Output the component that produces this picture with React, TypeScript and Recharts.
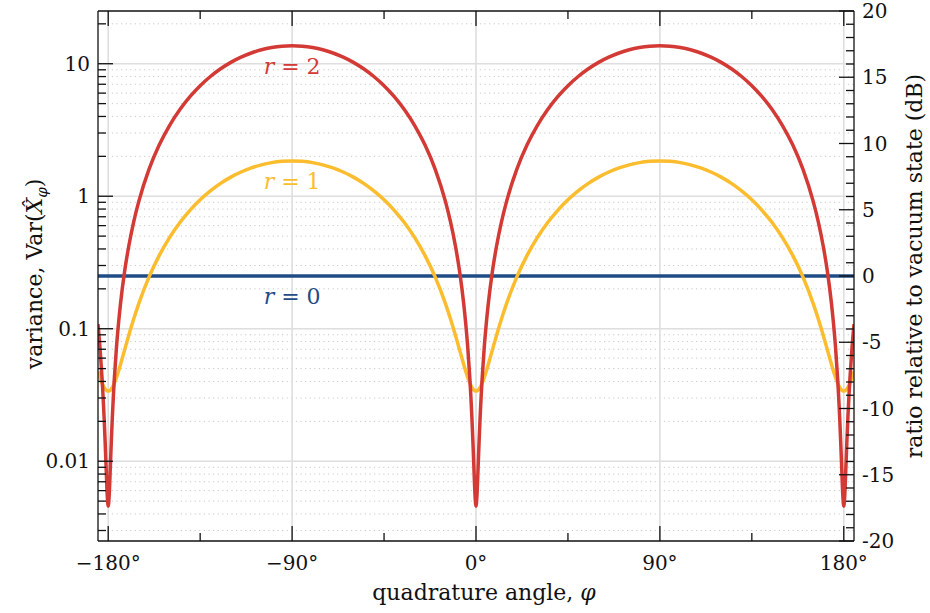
import React from "react";
import {
  Label,
  Line,
  LineChart,
  ReferenceDot,
  ReferenceLine,
  XAxis,
  YAxis,
} from "recharts";

// quadrature angle (deg), denser sampling near the squeezing dips
const phi = [
  -185, -184, -183, -182.5, -182, -181.5, -181, -180.5, -180,
  -179.5, -179, -178.5, -178, -177.5, -177, -176, -175, -174, -172, -170, -167.5, -165,
  -160, -155, -150, -145, -140, -135, -130, -125, -120, -115, -110, -105, -100, -95, -90,
  -85, -80, -75, -70, -65, -60, -55, -50, -45, -40, -35, -30, -25, -20, -15, -12.5,
  -10, -8, -6, -5, -4, -3, -2.5, -2, -1.5, -1, -0.5, 0,
  0.5, 1, 1.5, 2, 2.5, 3, 4, 5, 6, 8, 10, 12.5, 15, 20, 25, 30, 35, 40, 45, 50, 55,
  60, 65, 70, 75, 80, 85, 90,
  95, 100, 105, 110, 115, 120, 125, 130, 135, 140, 145, 150, 155, 160, 165, 167.5,
  170, 172, 174, 175, 176, 177, 177.5, 178, 178.5, 179, 179.5, 180,
  180.5, 181, 181.5, 182, 182.5, 183, 184, 185,
];

// Var(X_phi) for r = 1
const varR1 = [
  0.04761, 0.04266, 0.0388, 0.03728, 0.03604, 0.03508, 0.03439, 0.03397, 0.03383,
  0.03397, 0.03439, 0.03508, 0.03604, 0.03728, 0.0388, 0.04266, 0.04761, 0.05365, 0.06896, 0.08852, 0.1188, 0.1553,
  0.246, 0.3577, 0.4872, 0.6304, 0.7831, 0.9406, 1.098, 1.251, 1.394, 1.523, 1.635, 1.726, 1.793, 1.833, 1.847,
  1.833, 1.793, 1.726, 1.635, 1.523, 1.394, 1.251, 1.098, 0.9406, 0.7831, 0.6304, 0.4872, 0.3577, 0.246, 0.1553, 0.1188,
  0.08852, 0.06896, 0.05365, 0.04761, 0.04266, 0.0388, 0.03728, 0.03604, 0.03508, 0.03439, 0.03397, 0.03383,
  0.03397, 0.03439, 0.03508, 0.03604, 0.03728, 0.0388, 0.04266, 0.04761, 0.05365, 0.06896, 0.08852, 0.1188, 0.1553, 0.246, 0.3577, 0.4872, 0.6304, 0.7831, 0.9406, 1.098, 1.251,
  1.394, 1.523, 1.635, 1.726, 1.793, 1.833, 1.847,
  1.833, 1.793, 1.726, 1.635, 1.523, 1.394, 1.251, 1.098, 0.9406, 0.7831, 0.6304, 0.4872, 0.3577, 0.246, 0.1553, 0.1188,
  0.08852, 0.06896, 0.05365, 0.04761, 0.04266, 0.0388, 0.03728, 0.03604, 0.03508, 0.03439, 0.03397, 0.03383,
  0.03397, 0.03439, 0.03508, 0.03604, 0.03728, 0.0388, 0.04266, 0.04761,
];

// Var(X_phi) for r = 2
const varR2 = [
  0.1082, 0.07098, 0.04195, 0.03054, 0.0212, 0.01393, 0.008735, 0.005618, 0.004579,
  0.005618, 0.008735, 0.01393, 0.0212, 0.03054, 0.04195, 0.07098, 0.1082, 0.1537, 0.2689, 0.416, 0.6438, 0.9186,
  1.601, 2.442, 3.416, 4.494, 5.642, 6.827, 8.012, 9.16, 10.24, 11.21, 12.05, 12.74, 13.24, 13.55, 13.65,
  13.55, 13.24, 12.74, 12.05, 11.21, 10.24, 9.16, 8.012, 6.827, 5.642, 4.494, 3.416, 2.442, 1.601, 0.9186, 0.6438,
  0.416, 0.2689, 0.1537, 0.1082, 0.07098, 0.04195, 0.03054, 0.0212, 0.01393, 0.008735, 0.005618, 0.004579,
  0.005618, 0.008735, 0.01393, 0.0212, 0.03054, 0.04195, 0.07098, 0.1082, 0.1537, 0.2689, 0.416, 0.6438, 0.9186, 1.601, 2.442, 3.416, 4.494, 5.642, 6.827, 8.012, 9.16,
  10.24, 11.21, 12.05, 12.74, 13.24, 13.55, 13.65,
  13.55, 13.24, 12.74, 12.05, 11.21, 10.24, 9.16, 8.012, 6.827, 5.642, 4.494, 3.416, 2.442, 1.601, 0.9186, 0.6438,
  0.416, 0.2689, 0.1537, 0.1082, 0.07098, 0.04195, 0.03054, 0.0212, 0.01393, 0.008735, 0.005618, 0.004579,
  0.005618, 0.008735, 0.01393, 0.0212, 0.03054, 0.04195, 0.07098, 0.1082,
];

// r = 0 is the vacuum: flat, 0 dB on the right axis
const r0Phi = [-185, 185];
const r0Db = [0, 0];

const xTicks = [-180, -135, -90, -45, 0, 45, 90, 135, 180];
const xMajor = [-180, -90, 0, 90, 180];
const xMajorLabels = ["−180°", "−90°", "0°", "90°", "180°"];

const yMajor = [0.01, 0.1, 1, 10];
const yMajorLabels = ["0.01", "0.1", "1", "10"];
const yMinor = [
  0.003, 0.004, 0.005, 0.006, 0.007, 0.008, 0.009,
  0.02, 0.03, 0.04, 0.05, 0.06, 0.07, 0.08, 0.09,
  0.2, 0.3, 0.4, 0.5, 0.6, 0.7, 0.8, 0.9,
  2, 3, 4, 5, 6, 7, 8, 9, 20,
];

const dbTicks = [
  -20, -19, -18, -17, -16, -15, -14, -13, -12, -11, -10, -9, -8, -7, -6, -5, -4, -3, -2, -1,
  0, 1, 2, 3, 4, 5, 6, 7, 8, 9, 10, 11, 12, 13, 14, 15, 16, 17, 18, 19, 20,
];
const dbMajor = [-20, -15, -10, -5, 0, 5, 10, 15, 20];

const labelPos = [
  { r: "2", y: 13.65, color: "#d33a35" },
  { r: "1", y: 1.847, color: "#fbbd2e" },
];

const data = phi.map((p, i) => ({ phi: p, r1: varR1[i], r2: varR2[i] }));
const r0Data = r0Phi.map((p, i) => ({ phi: p, db: r0Db[i] }));

const FONT = "DejaVu Serif, serif";
const FS = 20;
const FS_AXIS = 22;
const GAP = 8;
const BIG = 15;
const SMALL = 8;
const INK = "#111";
const RED = "#d33a35";
const YELLOW = "#fbbd2e";
const BLUE = "#1f4c86";

const txt = { fontFamily: FONT, fontSize: FS, fill: INK } as const;
const axisTxt = { fontFamily: FONT, fontSize: FS_AXIS, fill: INK } as const;

function BottomTick({ x, y, payload }: any) {
  const i = xMajor.indexOf(payload.value);
  const edge = y - GAP;
  return (
    <g>
      <line x1={x} x2={x} y1={edge} y2={edge - (i >= 0 ? BIG : SMALL)} stroke={INK} strokeWidth={1.3} />
      {i >= 0 && (
        <text x={x} y={edge + 29} textAnchor="middle" style={txt}>
          {xMajorLabels[i]}
        </text>
      )}
    </g>
  );
}

function TopTick({ x, y, payload }: any) {
  const big = xMajor.includes(payload.value);
  const edge = y + GAP;
  return <line x1={x} x2={x} y1={edge} y2={edge + (big ? BIG : SMALL)} stroke={INK} strokeWidth={1.3} />;
}

function LeftTick({ x, y, payload }: any) {
  const i = yMajor.indexOf(payload.value);
  const edge = x + GAP;
  return (
    <g>
      <line x1={edge} x2={edge + (i >= 0 ? BIG : SMALL)} y1={y} y2={y} stroke={INK} strokeWidth={1.3} />
      {i >= 0 && (
        <text x={x} y={y + 7} textAnchor="end" style={txt}>
          {yMajorLabels[i]}
        </text>
      )}
    </g>
  );
}

function RightTick({ x, y, payload }: any) {
  const big = dbMajor.includes(payload.value);
  const edge = x - GAP;
  return (
    <g>
      <line x1={edge} x2={edge - (big ? BIG : SMALL)} y1={y} y2={y} stroke={INK} strokeWidth={1.3} />
      {big && (
        <text x={x} y={y + 7} textAnchor="start" style={txt}>
          {String(payload.value)}
        </text>
      )}
    </g>
  );
}

function curveLabel(r: string, color: string) {
  return (props: any) => {
    const vb = props.viewBox || {};
    const cx = (vb.x ?? 0) + (vb.width ?? 0) / 2;
    const cy = (vb.y ?? 0) + (vb.height ?? 0) / 2;
    return (
      <text x={cx} y={cy + 28} textAnchor="middle" style={{ ...axisTxt, fill: color }}>
        <tspan fontStyle="italic">r</tspan>
        <tspan> = {r}</tspan>
      </text>
    );
  };
}

export default function App() {
  return (
    <div style={{ position: "absolute", left: 0, top: 0, background: "#fff" }}>
      <LineChart
        width={930}
        height={613}
        data={data}
        margin={{ top: 10, right: 0, bottom: 0, left: 0 }}
      >
        <XAxis
          dataKey="phi"
          type="number"
          domain={[-185, 185]}
          allowDataOverflow
          ticks={xTicks}
          interval={0}
          tickLine={false}
          tickSize={0}
          tickMargin={GAP}
          tick={<BottomTick />}
          height={72}
          axisLine={{ stroke: INK, strokeWidth: 1.3 }}
        >
          <Label
            content={() => (
              <text x={484} y={600} textAnchor="middle" style={axisTxt}>
                quadrature angle, <tspan fontStyle="italic">φ</tspan>
              </text>
            )}
          />
        </XAxis>
        <XAxis
          xAxisId="top"
          orientation="top"
          dataKey="phi"
          type="number"
          domain={[-185, 185]}
          allowDataOverflow
          ticks={xTicks}
          interval={0}
          tickLine={false}
          tickSize={0}
          tickMargin={GAP}
          tick={<TopTick />}
          height={1}
          axisLine={{ stroke: INK, strokeWidth: 1.3 }}
        />
        <YAxis
          yAxisId="left"
          scale="log"
          type="number"
          domain={[0.0025, 25]}
          allowDataOverflow
          ticks={[...yMajor, ...yMinor]}
          interval={0}
          tickLine={false}
          tickSize={0}
          tickMargin={GAP}
          tick={<LeftTick />}
          width={98}
          axisLine={{ stroke: INK, strokeWidth: 1.3 }}
        >
          <Label
            content={() => (
              <text
                x={42}
                y={274}
                transform="rotate(-90 42 274)"
                textAnchor="middle"
                style={axisTxt}
              >
                variance, Var(<tspan fontStyle="italic">X̂</tspan>
                <tspan fontStyle="italic" fontSize={15} dy={5}>φ</tspan>
                <tspan dy={-5}>)</tspan>
              </text>
            )}
          />
        </YAxis>
        <YAxis
          yAxisId="db"
          orientation="right"
          type="number"
          domain={[-20, 20]}
          allowDataOverflow
          ticks={dbTicks}
          interval={0}
          tickLine={false}
          tickSize={0}
          tickMargin={GAP}
          tick={<RightTick />}
          width={76}
          axisLine={{ stroke: INK, strokeWidth: 1.3 }}
        >
          <Label
            content={() => (
              <text
                x={922}
                y={266}
                transform="rotate(-90 922 266)"
                textAnchor="middle"
                style={axisTxt}
              >
                ratio relative to vacuum state (dB)
              </text>
            )}
          />
        </YAxis>

        {yMinor.map((v) => (
          <ReferenceLine
            key={"ym" + v}
            yAxisId="left"
            y={v}
            stroke="#c8c8c8"
            strokeWidth={1}
            strokeDasharray="1.2 3.4"
          />
        ))}
        {yMajor.map((v) => (
          <ReferenceLine key={"yM" + v} yAxisId="left" y={v} stroke="#dedede" strokeWidth={1.6} />
        ))}
        {xMajor.map((v) => (
          <ReferenceLine key={"xM" + v} yAxisId="left" x={v} stroke="#dedede" strokeWidth={1.6} />
        ))}

        <Line
          yAxisId="db"
          data={r0Data}
          dataKey="db"
          type="linear"
          stroke={BLUE}
          strokeWidth={3.5}
          dot={false}
          activeDot={false}
          isAnimationActive={false}
        />
        <Line
          yAxisId="left"
          dataKey="r1"
          type="monotone"
          stroke={YELLOW}
          strokeWidth={3.5}
          dot={false}
          activeDot={false}
          isAnimationActive={false}
        />
        <Line
          yAxisId="left"
          dataKey="r2"
          type="monotone"
          stroke={RED}
          strokeWidth={3.5}
          dot={false}
          activeDot={false}
          isAnimationActive={false}
        />

        {labelPos.map((l) => (
          <ReferenceDot
            key={"lab" + l.r}
            yAxisId="left"
            x={-90}
            y={l.y}
            r={1}
            fill="none"
            stroke="none"
            label={{ content: curveLabel(l.r, l.color) }}
          />
        ))}
        <ReferenceDot
          yAxisId="db"
          x={-90}
          y={r0Db[0]}
          r={1}
          fill="none"
          stroke="none"
          label={{ content: curveLabel("0", BLUE) }}
        />
      </LineChart>
    </div>
  );
}
